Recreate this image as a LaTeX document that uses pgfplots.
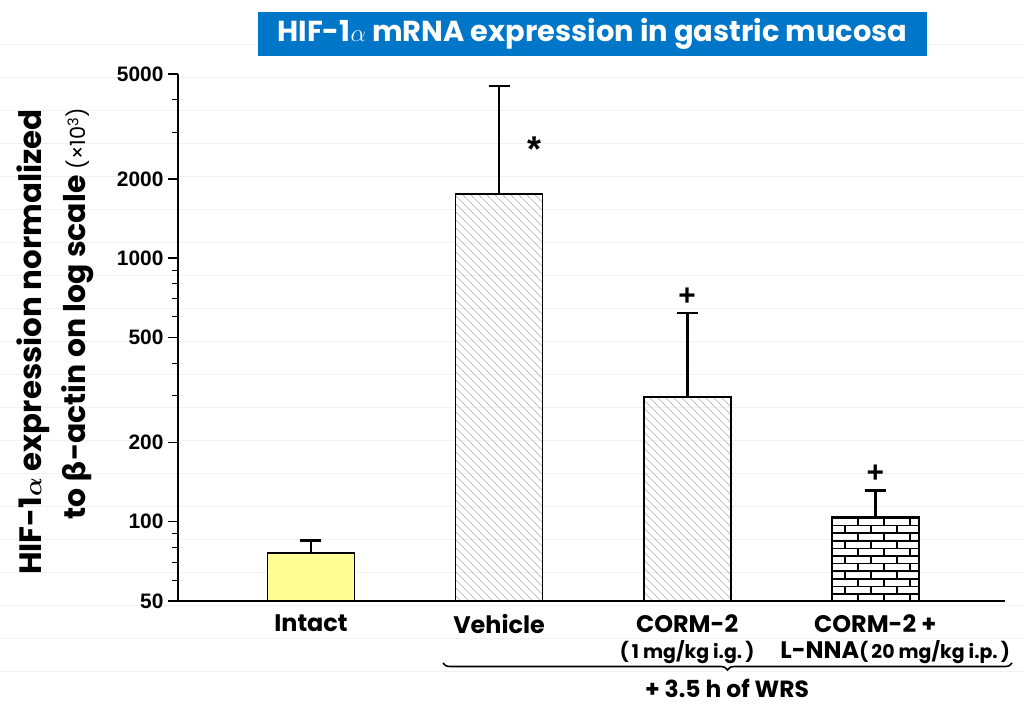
\documentclass[border=0pt]{standalone}
\usepackage{fontspec}
\setmainfont{Liberation Sans}
\newfontfamily\pop{Poppins}
\newfontfamily\dv{DejaVu Sans}
\usepackage{amsmath,bm}
\usepackage{pgfplots}
\pgfplotsset{compat=1.18}
\usetikzlibrary{patterns,decorations.pathreplacing}
\definecolor{titleblue}{RGB}{0,118,200}
\definecolor{baryellow}{RGB}{255,255,150}
\pgfdeclarepatternformonly{mybricks}{\pgfqpoint{-1bp}{-1bp}}{\pgfqpoint{27bp}{16bp}}{\pgfqpoint{26bp}{15.2bp}}{%
  \pgfsetlinewidth{1.6bp}%
  \pgfpathmoveto{\pgfqpoint{0bp}{0bp}}\pgfpathlineto{\pgfqpoint{26bp}{0bp}}%
  \pgfpathmoveto{\pgfqpoint{0bp}{7.6bp}}\pgfpathlineto{\pgfqpoint{26bp}{7.6bp}}%
  \pgfpathmoveto{\pgfqpoint{0bp}{0bp}}\pgfpathlineto{\pgfqpoint{0bp}{7.6bp}}%
  \pgfpathmoveto{\pgfqpoint{13bp}{7.6bp}}\pgfpathlineto{\pgfqpoint{13bp}{15.2bp}}%
  \pgfusepath{stroke}}
\pgfdeclarepatternformonly{myhatch}{\pgfqpoint{-1bp}{-1bp}}{\pgfqpoint{9bp}{9bp}}{\pgfqpoint{8bp}{8bp}}{%
  \pgfsetlinewidth{0.55bp}%
  \pgfpathmoveto{\pgfqpoint{-1bp}{9bp}}\pgfpathlineto{\pgfqpoint{9bp}{-1bp}}%
  \pgfusepath{stroke}}
\pgfplotsset{
  mybar/.style={ybar, bar width=87bp, bar shift=0pt, draw=black, line width=1.8bp},
  myerr/.style={draw=none, mark=none, forget plot,
    error bars/.cd, y dir=plus, y explicit,
    error bar style={draw=black, line width=2.8bp, solid},
    error mark=-,
    error mark options={draw=black, line width=2.6bp, mark size=10.5bp, solid, rotate=90}},
}
\begin{document}
\begin{tikzpicture}
\useasboundingbox (0,0) rectangle (1024bp,708bp);
\foreach \k in {0,...,19}{\draw[black!5, line width=0.8bp] (0bp,{(664-33*\k)*1bp}) -- (1024bp,{(664-33*\k)*1bp});}
\node[fill=titleblue, minimum width=669bp, minimum height=44bp, inner sep=0pt, text=white, font=\pop\bfseries\fontsize{29}{29}\selectfont] at (592.5bp,674bp) {HIF-1$\alpha$ mRNA expression in gastric mucosa};
\node[rotate=90, anchor=west, inner sep=0pt, font=\pop\bfseries\fontsize{31}{31}\selectfont] at (33bp,133bp) {HIF-1{\boldmath$\alpha$} expression normalized};
\node[rotate=90, anchor=west, inner sep=0pt, font=\pop\bfseries\fontsize{30}{30}\selectfont] at (78bp,188bp) {to {\dv\bfseries β}-actin on log scale {\mdseries\fontsize{21}{21}\selectfont(×10\textsuperscript{3})}};
\begin{axis}[at={(178bp,107bp)}, anchor=south west, scale only axis,
  width=827bp, height=527bp,
  ymode=log, ymin=50, ymax=5000, xmin=-0.707, xmax=3.69,
  log origin=infty,
  axis lines=left, axis line style={line width=2.2bp, -},
  ytick={50,100,200,500,1000,2000,5000},
  yticklabels={50,100,200,500,1000,2000,5000},
  minor ytick={60,70,80,90,300,400,600,700,800,900,3000,4000},
  tick align=outside, major tick length=10bp, minor tick length=6bp,
  major tick style={line width=1.4bp, black},
  minor tick style={line width=1bp, black},
  yticklabel style={font=\bfseries\fontsize{21}{21}\selectfont, xshift=-1bp},
  xtick={0,1,2,3}, xtick style={draw=none},
  xticklabels={Intact, Vehicle, {CORM-2\\{\fontsize{19}{19}\selectfont(\,1 mg/kg i.g.\,)}}, {CORM-2 +\\\hspace*{40bp}L-NNA{\fontsize{19}{19}\selectfont(\,20 mg/kg i.p.\,)}}},
  xticklabel style={align=center, font=\pop\bfseries\fontsize{24}{26}\selectfont, yshift=0bp},
  clip=false]
\addplot[mybar, fill=baryellow] coordinates {(0,76)};
\addplot[mybar, pattern=myhatch, pattern color=black!30] coordinates {(1,1750)};
\addplot[mybar, pattern=myhatch, pattern color=black!30] coordinates {(2,297)};
\addplot[mybar, pattern=mybricks, pattern color=black] coordinates {(3,104)};
\addplot[myerr] coordinates {(0,76) +- (0,9) (1,1750) +- (0,2750) (2,297) +- (0,323) (3,104) +- (0,27)};
\node[font=\bfseries\fontsize{36}{36}\selectfont] at (axis cs:1.19,2600) {*};
\node[font=\bfseries\fontsize{30}{30}\selectfont] at (axis cs:2,713) {+};
\node[font=\bfseries\fontsize{30}{30}\selectfont] at (axis cs:3,152) {+};
\end{axis}
\draw[decorate, decoration={brace, amplitude=7bp, mirror}, line width=1.6bp] (443bp,45bp) -- (1012bp,45bp);
\node[font=\pop\bfseries\fontsize{23.5}{23.5}\selectfont] at (727bp,20bp) {+ 3.5 h of WRS};
\end{tikzpicture}
\end{document}
